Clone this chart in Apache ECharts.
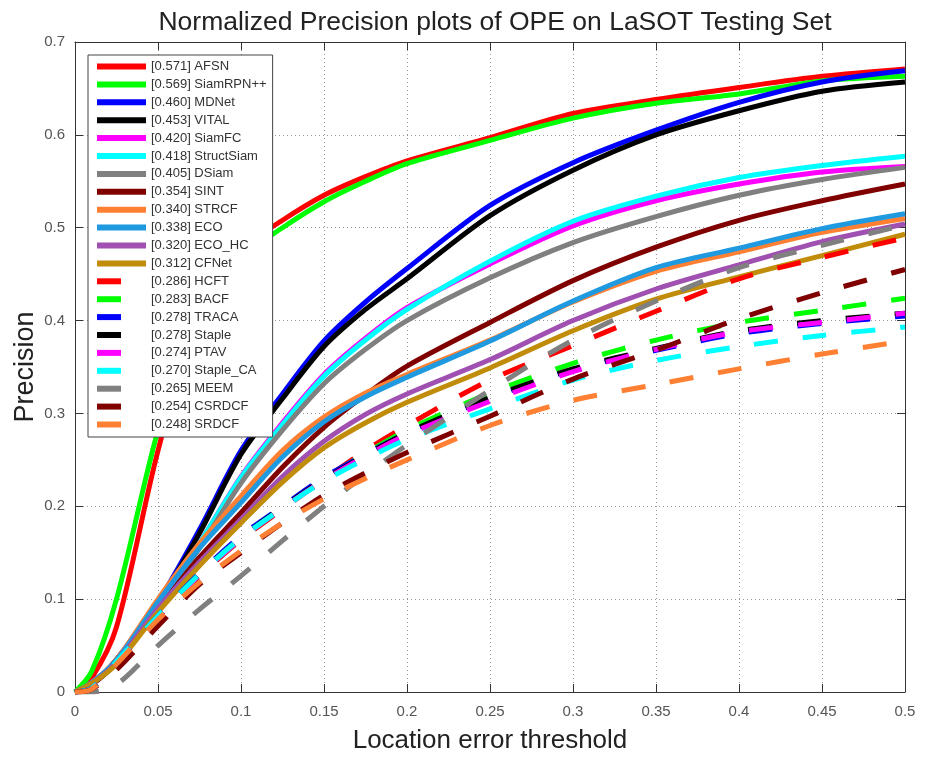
<!DOCTYPE html>
<html>
<head>
<meta charset="utf-8">
<script src="https://cdn.jsdelivr.net/npm/echarts@6/dist/echarts.min.js"></script>
<style>
html, body { margin: 0; padding: 0; background: #fff; }
#main { width: 925px; height: 758px; }
</style>
</head>
<body>
<div id="main"></div>
<script>
// location error thresholds (x)
var thresholds = [0, 0.01, 0.025, 0.05, 0.075, 0.1, 0.125, 0.15, 0.175, 0.2, 0.25, 0.3, 0.35, 0.4, 0.45, 0.5];

// legend labels
var trackerNames = [
    "[0.571] AFSN", "[0.569] SiamRPN++", "[0.460] MDNet", "[0.453] VITAL",
    "[0.420] SiamFC", "[0.418] StructSiam", "[0.405] DSiam", "[0.354] SINT",
    "[0.340] STRCF", "[0.338] ECO", "[0.320] ECO_HC", "[0.312] CFNet",
    "[0.286] HCFT", "[0.283] BACF", "[0.278] TRACA", "[0.278] Staple",
    "[0.274] PTAV", "[0.270] Staple_CA", "[0.265] MEEM", "[0.254] CSRDCF", "[0.248] SRDCF"
];

// precision values
var afsn       = [0, 0.015, 0.07, 0.26, 0.41, 0.476, 0.508, 0.535, 0.555, 0.572, 0.597, 0.623, 0.638, 0.651, 0.663, 0.671];
var siamrpn    = [0, 0.022, 0.10, 0.282, 0.42, 0.468, 0.50, 0.528, 0.55, 0.569, 0.594, 0.618, 0.634, 0.644, 0.658, 0.663];
var mdnet      = [0, 0.008, 0.035, 0.097, 0.175, 0.26, 0.321, 0.378, 0.42, 0.456, 0.524, 0.570, 0.605, 0.635, 0.657, 0.669];
var vital      = [0, 0.008, 0.035, 0.095, 0.171, 0.256, 0.316, 0.372, 0.412, 0.445, 0.513, 0.562, 0.600, 0.626, 0.647, 0.657];
var siamfc     = [0, 0.008, 0.033, 0.092, 0.16, 0.232, 0.29, 0.342, 0.381, 0.414, 0.461, 0.502, 0.529, 0.547, 0.560, 0.566];
var structsiam = [0, 0.008, 0.033, 0.092, 0.16, 0.231, 0.288, 0.340, 0.379, 0.412, 0.464, 0.507, 0.534, 0.554, 0.567, 0.577];
var dsiam      = [0, 0.008, 0.032, 0.09, 0.155, 0.225, 0.282, 0.332, 0.369, 0.400, 0.446, 0.484, 0.512, 0.535, 0.552, 0.565];
var sint       = [0, 0.008, 0.032, 0.09, 0.145, 0.193, 0.242, 0.285, 0.320, 0.351, 0.398, 0.443, 0.479, 0.508, 0.529, 0.547];
var strcf      = [0, 0.01, 0.035, 0.10, 0.16, 0.211, 0.26, 0.296, 0.322, 0.342, 0.379, 0.420, 0.453, 0.474, 0.495, 0.510];
var eco        = [0, 0.01, 0.034, 0.097, 0.155, 0.204, 0.253, 0.291, 0.318, 0.339, 0.378, 0.421, 0.457, 0.478, 0.499, 0.515];
var ecoHc      = [0, 0.009, 0.032, 0.09, 0.14, 0.186, 0.232, 0.27, 0.299, 0.321, 0.358, 0.400, 0.434, 0.460, 0.485, 0.504];
var cfnet      = [0, 0.009, 0.03, 0.086, 0.136, 0.182, 0.226, 0.263, 0.29, 0.312, 0.349, 0.389, 0.423, 0.447, 0.470, 0.493];
var hcft       = [0, 0.004, 0.03, 0.08, 0.125, 0.164, 0.197, 0.229, 0.26, 0.287, 0.336, 0.373, 0.410, 0.445, 0.468, 0.489];
var bacf       = [0, 0.004, 0.031, 0.08, 0.126, 0.165, 0.198, 0.229, 0.257, 0.282, 0.322, 0.354, 0.379, 0.398, 0.411, 0.424];
var traca      = [0, 0.004, 0.033, 0.082, 0.128, 0.168, 0.2, 0.231, 0.256, 0.279, 0.316, 0.347, 0.368, 0.386, 0.397, 0.405];
var staple     = [0, 0.004, 0.032, 0.081, 0.127, 0.166, 0.199, 0.229, 0.255, 0.279, 0.317, 0.348, 0.370, 0.389, 0.400, 0.408];
var ptav       = [0, 0.004, 0.032, 0.080, 0.126, 0.165, 0.198, 0.228, 0.254, 0.277, 0.313, 0.345, 0.369, 0.388, 0.398, 0.408];
var stapleCa   = [0, 0.004, 0.033, 0.082, 0.127, 0.166, 0.198, 0.227, 0.251, 0.272, 0.305, 0.336, 0.357, 0.372, 0.384, 0.393];
var meem       = [0, 0, 0.008, 0.05, 0.089, 0.125, 0.163, 0.2, 0.234, 0.266, 0.325, 0.379, 0.421, 0.457, 0.481, 0.503];
var csrdcf     = [0, 0.003, 0.024, 0.071, 0.116, 0.15, 0.182, 0.212, 0.236, 0.258, 0.297, 0.337, 0.368, 0.402, 0.43, 0.455];
var srdcf      = [0, 0.003, 0.03, 0.078, 0.118, 0.152, 0.182, 0.208, 0.23, 0.25, 0.287, 0.314, 0.331, 0.348, 0.364, 0.378];

var allValues = [afsn, siamrpn, mdnet, vital, siamfc, structsiam, dsiam, sint, strcf, eco, ecoHc, cfnet,
                 hcft, bacf, traca, staple, ptav, stapleCa, meem, csrdcf, srdcf];

// styles
var colors = ["#ff0000", "#00ff00", "#0000ff", "#000000", "#ff00ff", "#00ffff", "#808080", "#800000",
              "#ff8033", "#1f9ae0", "#a050b0", "#c08c0a",
              "#ff0000", "#00ff00", "#0000ff", "#000000", "#ff00ff", "#00ffff", "#808080", "#800000", "#ff8033"];
var solidCount = 12;

var fontFamily = "'Liberation Sans', Arial, sans-serif";

(function () {
    var myChart = echarts.init(document.getElementById("main"));

    var series = [];
    for (var i = 0; i < trackerNames.length; i++) {
        var pts = [];
        for (var j = 0; j < thresholds.length; j++) {
            pts.push([thresholds[j], allValues[i][j]]);
        }
        series.push({
            name: trackerNames[i],
            type: "line",
            data: pts,
            smooth: 0.3,
            symbol: "none",
            color: colors[i],
            lineStyle: {
                color: colors[i],
                width: 5,
                type: i < solidCount ? "solid" : [24, 25]
            },
            z: 2 + i
        });
    }

    var option = {
        animation: false,
        title: {
            text: "Normalized Precision plots of OPE on LaSOT Testing Set",
            left: 490,
            textAlign: "center",
            top: 4,
            textStyle: {
                color: "#222",
                fontSize: 26.5,
                fontWeight: "normal",
                fontFamily: fontFamily
            }
        },
        legend: {
            orient: "vertical",
            left: 88,
            top: 55,
            padding: [5, 6, 6, 6],
            itemWidth: 49,
            itemHeight: 6,
            itemGap: 4.9,
            backgroundColor: "#fff",
            borderColor: "#444",
            borderWidth: 1,
            itemStyle: { opacity: 0, borderWidth: 0 },
            lineStyle: { width: 6 },
            textStyle: {
                color: "#333",
                fontSize: 13,
                fontFamily: fontFamily
            },
            data: trackerNames,
            z: 20
        },
        grid: {
            left: 75,
            right: 20,
            top: 42,
            bottom: 66,
            containLabel: false,
            outerBoundsMode: "none"
        },
        xAxis: [{
            type: "value",
            min: 0,
            max: 0.5,
            interval: 0.05,
            name: "Location error threshold",
            nameLocation: "middle",
            nameGap: 36,
            nameMoveOverlap: false,
            nameTextStyle: { color: "#222", fontSize: 26, fontFamily: fontFamily },
            axisLine: { onZero: false, lineStyle: { color: "#333", width: 1 } },
            axisTick: { inside: true, length: 8, lineStyle: { color: "#333" } },
            axisLabel: { color: "#555", fontSize: 15, margin: 12, fontFamily: fontFamily },
            splitLine: { show: true, lineStyle: { color: "#999", type: [1, 3] } }
        }, {
            type: "value",
            position: "top",
            min: 0,
            max: 0.5,
            interval: 0.05,
            axisLine: { onZero: false, lineStyle: { color: "#333", width: 1 } },
            axisTick: { inside: true, length: 8, lineStyle: { color: "#333" } },
            axisLabel: { show: false },
            splitLine: { show: false }
        }],
        yAxis: [{
            type: "value",
            min: 0,
            max: 0.7,
            interval: 0.1,
            name: "Precision",
            nameLocation: "middle",
            nameGap: 36,
            nameMoveOverlap: false,
            nameTextStyle: { color: "#222", fontSize: 27, fontFamily: fontFamily },
            axisLine: { show: true, onZero: false, lineStyle: { color: "#333", width: 1 } },
            axisTick: { show: true, inside: true, length: 8, lineStyle: { color: "#333" } },
            axisLabel: { color: "#555", fontSize: 15, margin: 10, fontFamily: fontFamily },
            splitLine: { show: true, lineStyle: { color: "#999", type: [1, 3] } }
        }, {
            type: "value",
            position: "right",
            min: 0,
            max: 0.7,
            interval: 0.1,
            axisLine: { show: true, onZero: false, lineStyle: { color: "#333", width: 1 } },
            axisTick: { show: true, inside: true, length: 8, lineStyle: { color: "#333" } },
            axisLabel: { show: false },
            splitLine: { show: false }
        }],
        series: series
    };

    myChart.setOption(option);
    window.addEventListener("resize", function () {
        myChart.resize();
    });
})();
</script>
</body>
</html>
